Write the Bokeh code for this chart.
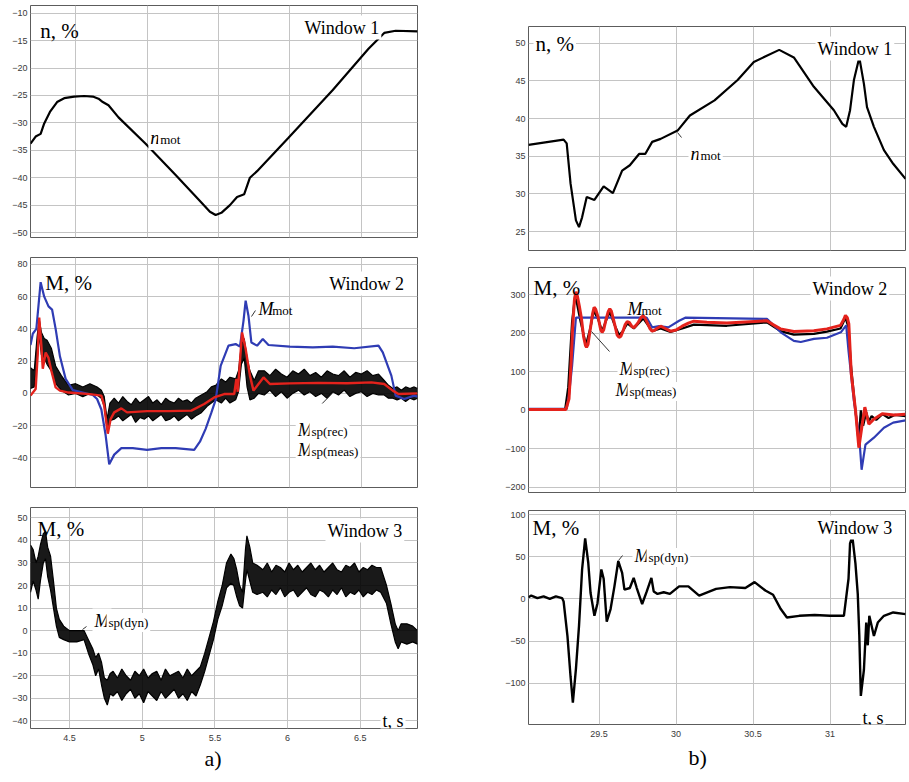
from bokeh.plotting import figure
from bokeh.models import Range1d, FixedTicker, Label, NumeralTickFormatter, Title
from bokeh.layouts import row, column
from bokeh.embed import file_html
from bokeh.resources import INLINE

# ---------------- data ----------------
# a) Window 1 : motor speed
t_n_a = [4.184, 4.22, 4.255, 4.28, 4.32, 4.37, 4.42, 4.49, 4.56, 4.62, 4.66, 4.69, 4.73, 4.80, 4.99,
         5.2, 5.38, 5.44, 5.48, 5.52, 5.58, 5.63, 5.68, 5.72, 5.77, 5.99, 6.3, 6.55, 6.66, 6.74, 6.893]
n_mot_a = [-33.8, -32.5, -32.0, -30.1, -28.0, -26.2, -25.5, -25.2, -25.1, -25.2, -25.6, -26.2, -26.8, -29.0,
           -33.8, -39.5, -44.5, -46.2, -46.8, -46.4, -45.0, -43.5, -43.0, -40.0, -38.8, -32.7, -24.0,
           -16.5, -13.6, -13.2, -13.3]

# a) Window 2
t_mot_a = [4.184, 4.20, 4.225, 4.255, 4.28, 4.31, 4.335, 4.36, 4.39, 4.43, 4.48, 4.62, 4.65, 4.68, 4.71,
           4.735, 4.77, 4.82, 4.9, 5.0, 5.1, 5.2, 5.33, 5.37, 5.41, 5.45, 5.48, 5.515, 5.57, 5.62, 5.65,
           5.675, 5.69, 5.71, 5.73, 5.77, 5.81, 5.85, 6.0, 6.16, 6.3, 6.45, 6.62, 6.65, 6.71, 6.74, 6.80,
           6.87, 6.893]
M_mot_a = [30, 37, 40, 69, 60, 54, 52, 40, 23, 9, 2, -1, -3.5, -10, -26, -44, -38, -34, -34, -35, -34, -34,
           -35, -30, -22, -12, -4, 17, 29.6, 30.6, 29, 45, 57.5, 48, 31.6, 29.6, 33.7, 30, 29, 28.5, 29,
           28, 29.6, 25.4, 11, -1.4, -3.5, -1.4, -2]
t_rec_a = [4.184, 4.22, 4.235, 4.245, 4.26, 4.27, 4.29, 4.31, 4.33, 4.36, 4.39, 4.45, 4.6, 4.68, 4.70,
           4.725, 4.745, 4.77, 4.82, 4.86, 5.0, 5.15, 5.31, 5.40, 5.47, 5.54, 5.61, 5.625, 5.635, 5.665,
           5.69, 5.72, 5.745, 5.78, 5.815, 5.86, 6.0, 6.2, 6.4, 6.57, 6.66, 6.72, 6.76, 6.893]
M_rec_a = [-1.4, 2.7, 25, 47, 29.6, 15.3, 25.4, 22, 14, 3.7, 1.7, 0.5, -0.5, -1.4, -7.6, -25, -15.9, -11.8,
           -9.3, -11.8, -11, -11, -10.7, -6.6, -2.5, -0.4, -0.4, 9, 1, 37.8, 27.5, 11, 1.7, 5.8, 9.9, 5.8,
           6.2, 6.5, 6.3, 6.8, 5.8, 1.7, -0.4, 0]
# measured torque: noisy trace, given by its upper / lower envelope
t_meas_a = [4.184, 4.21, 4.23, 4.245, 4.26, 4.28, 4.30, 4.33, 4.36, 4.40, 4.45, 4.50, 4.55, 4.60, 4.65,
            4.68, 4.70, 4.72, 4.74,
            4.77, 4.80, 4.83, 4.86, 4.89, 4.92, 4.95, 4.98, 5.01, 5.04, 5.07, 5.10, 5.13, 5.16, 5.19,
            5.22, 5.25, 5.28, 5.31, 5.34,
            5.38, 5.42, 5.45, 5.48, 5.52, 5.55, 5.58, 5.62, 5.64, 5.66, 5.68, 5.70, 5.72, 5.75, 5.78,
            5.82, 5.86, 5.90, 5.94, 5.98, 6.02, 6.06, 6.10, 6.14, 6.18, 6.22, 6.26, 6.30, 6.34, 6.38,
            6.42, 6.46, 6.50, 6.54, 6.58, 6.62,
            6.66, 6.69, 6.72, 6.75, 6.78, 6.81, 6.84, 6.87, 6.893]
M_meas_hi_a = [16, 14, 35, 46, 38, 34, 33, 28, 17, 11, 5, 6, 4, 6, 4, 2, -2, -16, -6,
               -3, -6, -2, -5, -7, -3, -6, -4, -2, -6, -4, -7, -3, -5, -6, -3, -5, -4, -6, -3,
               -1, 1, 4, 5, 9, 7, 10, 9, 14, 30, 34, 22, 14, 8, 14,
               14, 11, 15, 12, 10, 14, 12, 15, 11, 13, 10, 14, 12, 11, 14, 10, 13, 12, 14, 11, 12,
               8, 5, 3, 4, 2, 4, 3, 4, 3]
M_meas_lo_a = [3, 4, 20, 36, 24, 22, 18, 14, 6, 2, -1, 0, -2, 0, -1, -3, -8, -22, -17,
               -16, -14, -17, -15, -13, -18, -15, -16, -14, -17, -15, -13, -17, -16, -14, -17, -15, -13,
               -16, -14,
               -12, -8, -6, -4, -6, -3, -6, -4, 1, 18, 22, 4, -4, -3, 0,
               -1, 2, -2, 1, -3, 0, 2, -1, 1, -2, 0, -3, 1, -1, 2, -2, 0, 1, -2, 0, -1,
               -1, -3, -3, -4, -3, -5, -3, -4, -3]

# a) Window 3 : dynamic torque (noisy trace, upper / lower envelope)
t_dyn_a = [4.232, 4.25, 4.27, 4.285, 4.30, 4.32, 4.335, 4.35, 4.37, 4.39, 4.41, 4.43, 4.46, 4.50, 4.55,
           4.60, 4.63, 4.66, 4.68, 4.70, 4.72, 4.74, 4.76, 4.78,
           4.80, 4.83, 4.86, 4.89, 4.92, 4.95, 4.98, 5.01, 5.04, 5.07, 5.10, 5.13, 5.16, 5.19, 5.22,
           5.25, 5.28, 5.31, 5.34, 5.37,
           5.40, 5.43, 5.46, 5.49, 5.52, 5.55, 5.58, 5.61, 5.63, 5.65, 5.67, 5.69, 5.71, 5.72, 5.74,
           5.76, 5.79,
           5.83, 5.86, 5.89, 5.92, 5.95, 5.98, 6.01, 6.04, 6.07, 6.10, 6.13, 6.16, 6.19, 6.22, 6.25,
           6.28, 6.31, 6.34, 6.37, 6.40, 6.43, 6.46, 6.49, 6.52, 6.55, 6.58, 6.61,
           6.64, 6.68, 6.71, 6.74, 6.76, 6.78, 6.82, 6.86, 6.893]
M_dyn_hi_a = [38, 36, 30, 33, 38, 43, 44, 37, 33, 22, 10, 5, 2, 0, 0, 0, -4, -8, -12, -10, -14, -21, -22,
              -19,
              -18, -21, -17, -20, -22, -18, -20, -17, -21, -19, -18, -22, -17, -20, -19, -18, -21, -17,
              -20, -18,
              -16, -10, -3, 4, 13, 20, 30, 34, 32, 27, 20, 17, 36, 42, 37, 30, 29,
              27, 30, 26, 29, 28, 26, 30, 27, 29, 26, 28, 30, 27, 29, 26, 28, 30, 27, 26, 29, 28, 30,
              26, 28, 27, 29, 28,
              28, 20, 12, 3, 0, 3, 3, 2, 0]
M_dyn_lo_a = [17, 22, 18, 14, 22, 30, 32, 24, 18, 10, 2, -3, -4, -5, -5, -4, -10, -15, -20, -17, -24, -30,
              -33, -28,
              -29, -27, -31, -28, -26, -30, -28, -32, -27, -29, -31, -27, -30, -28, -26, -30, -28, -31,
              -27, -29,
              -24, -18, -11, -4, 5, 11, 19, 21, 20, 15, 11, 10, 22, 27, 22, 17, 16,
              17, 15, 18, 16, 19, 15, 17, 18, 15, 17, 19, 16, 15, 18, 17, 15, 18, 16, 19, 15, 17, 16,
              18, 15, 17, 16, 18,
              17, 12, 3, -5, -8, -5, -6, -5, -6]

# b) Window 1
t_n_b = [29.042, 29.27, 29.29, 29.315, 29.35, 29.37, 29.39, 29.42, 29.47, 29.53, 29.59, 29.65, 29.70,
         29.76, 29.80, 29.845, 29.90, 30.01, 30.09, 30.25, 30.40, 30.505, 30.67, 30.765, 30.895, 31.025,
         31.08, 31.105, 31.13, 31.155, 31.19, 31.22, 31.24, 31.285, 31.35, 31.41, 31.49]
n_mot_b = [36.5, 37.2, 36.7, 31.4, 26.5, 25.6, 26.9, 29.6, 29.2, 31.0, 30.1, 33.1, 33.8, 35.3, 35.3,
           36.9, 37.3, 38.4, 40.4, 42.4, 45.1, 47.5, 49.1, 48.1, 44.2, 41.1, 39.3, 38.9, 41.1, 45.1, 48.1,
           44.6, 41.5, 38.9, 35.8, 34.0, 32.0]

# b) Window 2
t_mot_b = [29.042, 29.29, 29.305, 29.325, 29.35, 29.81, 29.845, 29.89, 29.95, 30.02, 30.06, 30.59, 30.68,
           30.765, 30.81, 30.895, 30.98, 31.07, 31.105, 31.12, 31.155, 31.19, 31.205, 31.23, 31.285,
           31.35, 31.41, 31.49]
M_mot_b = [4, 4, 40, 115, 240, 240, 215, 218, 215, 232, 240, 237, 202, 180, 177, 185, 188, 202, 220, 154,
           24, -71, -154, -89, -71, -45, -32, -26]
t_rec_b = [29.042, 29.285, 29.305, 29.318, 29.328, 29.34, 29.350, 29.36, 29.372, 29.385, 29.40, 29.412,
           29.419, 29.428, 29.445, 29.458, 29.468, 29.478, 29.495, 29.51, 29.52, 29.53, 29.545, 29.56,
           29.57, 29.58, 29.60, 29.618, 29.63, 29.642, 29.655, 29.67, 29.683, 29.696, 29.712, 29.726,
           29.74, 29.755, 29.772, 29.787, 29.80, 29.815, 29.83, 29.845, 29.86, 29.875, 29.90, 29.93,
           29.964, 30.0, 30.04, 30.08, 30.116, 30.2, 30.33, 30.45, 30.59, 30.63, 30.678, 30.765, 30.895,
           30.98, 31.068, 31.09, 31.10, 31.112, 31.122, 31.138, 31.166, 31.187, 31.209, 31.226, 31.252,
           31.284, 31.339, 31.414, 31.49]
M_rec_b = [2, 2, 30, 120, 210, 285, 307, 295, 270, 240, 190, 168, 163, 170, 215, 250, 267, 262, 240, 210,
           202, 208, 235, 256, 263, 257, 225, 195, 189, 192, 205, 222, 230, 228, 218, 214, 220, 228, 240,
           245, 238, 225, 212, 205, 207, 212, 218, 212, 205, 208, 218, 226, 231, 228, 226, 229, 232, 222,
           211, 204, 206, 211, 220, 236, 246, 240, 224, 94, -2, -97, -36, 8, -36, -23, -9, -12, -10]
t_meas_b = [29.042, 29.28, 29.30, 29.325, 29.345, 29.38, 29.415, 29.445, 29.465, 29.495, 29.52, 29.545,
            29.57, 29.60, 29.63, 29.655, 29.683, 29.726, 29.787, 29.845, 29.90, 29.964, 30.04, 30.116,
            30.33, 30.59, 30.678, 30.765, 30.895, 30.98, 31.068, 31.10, 31.12, 31.135, 31.16, 31.185,
            31.20, 31.215, 31.235, 31.25, 31.27, 31.30, 31.34, 31.38, 31.42, 31.49]
M_meas_b = [3, 3, 60, 230, 300, 230, 170, 215, 258, 235, 205, 232, 255, 222, 195, 205, 225, 212, 238, 205,
            212, 203, 212, 222, 219, 228, 205, 196, 198, 204, 212, 240, 215, 120, 20, -80, 0, -40, -5,
            -30, -15, -25, -10, -20, -12, -15]

# b) Window 3
t_dyn_b = [29.042, 29.06, 29.10, 29.14, 29.18, 29.22, 29.26, 29.27, 29.295, 29.315, 29.33, 29.35, 29.37,
           29.39, 29.41, 29.43, 29.445, 29.47, 29.49, 29.515, 29.53, 29.55, 29.575, 29.60, 29.625, 29.65,
           29.665, 29.70, 29.725, 29.745, 29.78, 29.81, 29.84, 29.855, 29.88, 29.92, 29.96, 30.02, 30.08,
           30.15, 30.26, 30.35, 30.45, 30.51, 30.58, 30.63, 30.68, 30.72, 30.8, 30.9, 31.0, 31.09, 31.12,
           31.13, 31.145, 31.165, 31.18, 31.19, 31.20, 31.22, 31.235, 31.245, 31.255, 31.285, 31.31,
           31.35, 31.41, 31.49]
M_dyn_b = [2, 4, 1, 3, 0, 3, 1, -3, -44, -92, -123, -83, -32, 35, 72, 43, 7, -20, -5, 35, 24, -27, -12,
           15, 45, 31, 11, 13, 25, 13, -6, 9, 25, 9, 6, 8, 6, 15, 15, 4, 12, 14, 13, 20, 10, 5, -12, -22,
           -20, -19, -20, -20, 24, 66, 74, 42, 6, -43, -115, -84, -28, -55, -20, -44, -28, -20, -16, -18]

# ticks
xt_a = [4.5, 5, 5.5, 6, 6.5]
xt_b = [29.5, 30, 30.5, 31]
yt_a1 = [-50, -45, -40, -35, -30, -25, -20, -15, -10]
yt_a2 = [-40, -20, 0, 20, 40, 60, 80]
yt_a3 = [-40, -30, -20, -10, 0, 10, 20, 30, 40, 50]
yt_b1 = [25, 30, 35, 40, 45, 50]
yt_b2 = [-200, -100, 0, 100, 200, 300]
yt_b3 = [-100, -50, 0, 50, 100]

# ---------------- styling / layout ----------------
SERIF = "Liberation Serif"
SANS = "Liberation Sans"
GRID = "#c4c4c4"
BLUE = "#2f3cb4"
RED = "#e4221c"

# frame geometry in page pixels + axis ranges: (fx0, fx1, fy0, fy1, x0, x1, y0, y1)
GA1 = (23, 417, 5, 237, 4.184, 6.893, -50.9, -8.6)
GA2 = (23, 417, 257, 487, 4.184, 6.893, -58.4, 84.3)
GA3 = (30, 417, 507, 728, 4.232, 6.893, -43.4, 54.6)
GB1 = (528, 905, 26, 250, 29.042, 31.49, 22.5, 52.2)
GB2 = (528, 905, 267, 492, 29.042, 31.49, -213, 370)
GB3 = (528, 905, 510, 724, 29.042, 31.49, -149, 105)


def to_data(g, px, py):
    fx0, fx1, fy0, fy1, x0, x1, y0, y1 = g
    return (x0 + (px - fx0) / (fx1 - fx0) * (x1 - x0),
            y1 - (py - fy0) / (fy1 - fy0) * (y1 - y0))


def style_axis(ax, standoff):
    ax.axis_line_color = None
    ax.major_tick_line_color = None
    ax.minor_tick_line_color = None
    ax.major_tick_in = 0
    ax.major_tick_out = 0
    ax.major_label_standoff = standoff
    ax.major_label_text_font = SANS
    ax.major_label_text_font_size = "9px"
    ax.major_label_text_color = "#3a3a3a"


def make_fig(w, h, bl, br, bt, bb, g, xticks, yticks, show_x):
    fx0, fx1, fy0, fy1, x0, x1, y0, y1 = g
    p = figure(width=w, height=h, x_range=Range1d(x0, x1), y_range=Range1d(y0, y1),
               output_backend="svg", toolbar_location=None,
               x_axis_location="below" if show_x else None,
               min_border_left=bl, min_border_right=br, min_border_top=bt, min_border_bottom=bb)
    p.background_fill_color = "white"
    p.border_fill_color = "white"
    p.outline_line_color = "#5c5c5c"
    p.outline_line_width = 1
    p.xgrid.ticker = FixedTicker(ticks=xticks)
    p.ygrid.ticker = FixedTicker(ticks=yticks)
    for gr in (p.xgrid[0], p.ygrid[0]):
        gr.grid_line_color = GRID
        gr.grid_line_width = 1
    ya = p.yaxis[0]
    ya.ticker = FixedTicker(ticks=yticks)
    style_axis(ya, 3)
    if show_x:
        xa = p.xaxis[0]
        xa.ticker = FixedTicker(ticks=xticks)
        xa.formatter = NumeralTickFormatter(format="0.[0]")
        style_axis(xa, 6)
    return p


def lab(p, g, px, py, text, size, italic=False, bg=False, align="left"):
    x, y = to_data(g, px, py)
    kw = dict(x=x, y=y, text=text, text_font=SERIF, text_font_size=f"{size}px",
              text_font_style="italic" if italic else "normal",
              text_baseline="alphabetic", text_align=align, text_color="black")
    if bg:
        kw.update(background_fill_color="white", padding=2)
    p.add_layout(Label(**kw))


def sublab(p, g, px, py, main, sub, bg=True, size=18):
    lab(p, g, px, py, main, size, italic=True, bg=bg)
    w = {"M": 14, "n": 10}[main]
    lab(p, g, px + w, py + 2, sub, 13, bg=bg)


def leader(p, g, a, b):
    x1, y1 = to_data(g, *a)
    x2, y2 = to_data(g, *b)
    p.line([x1, x2], [y1, y2], line_color="#333333", line_width=1)


def caption(p, text, offset, standoff):
    p.add_layout(Title(text=text, align="left", offset=offset, standoff=standoff,
                       text_font=SERIF, text_font_size="22px", text_font_style="normal",
                       text_color="black"), "below")


def noisy(p, t, lo, hi):
    p.varea(x=t, y1=lo, y2=hi, fill_color="black", fill_alpha=0.9)
    p.line(t, hi, line_color="black", line_width=1.2)
    p.line(t, lo, line_color="black", line_width=1.2)


# ---- a) column ----
pa1 = make_fig(440, 247, 23, 23, 5, 10, GA1, xt_a, yt_a1, False)
pa1.line(t_n_a, n_mot_a, line_color="black", line_width=2.2)
lab(pa1, GA1, 33, 30, "n, %", 21)
lab(pa1, GA1, 300, 27, "Window 1", 18, bg=True)
sublab(pa1, GA1, 143, 137, "n", "mot", size=19)

pa2 = make_fig(440, 250, 23, 23, 10, 10, GA2, xt_a, yt_a2, False)
noisy(pa2, t_meas_a, M_meas_lo_a, M_meas_hi_a)
pa2.line(t_mot_a, M_mot_a, line_color=BLUE, line_width=2.2)
pa2.line(t_rec_a, M_rec_a, line_color=RED, line_width=2.4)
lab(pa2, GA2, 38, 282, "M, %", 21)
lab(pa2, GA2, 325, 283, "Window 2", 18, bg=True)
sublab(pa2, GA2, 255, 308, "M", "mot", bg=False)
leader(pa2, GA2, (252, 310), (248, 316))
leader(pa2, GA2, (320, 403), (330, 393))
sublab(pa2, GA2, 293, 429, "M", "sp(rec)")
sublab(pa2, GA2, 293, 449, "M", "sp(meas)")

pa3 = make_fig(440, 281, 30, 23, 10, 50, GA3, xt_a, yt_a3, True)
noisy(pa3, t_dyn_a, M_dyn_lo_a, M_dyn_hi_a)
lab(pa3, GA3, 37, 528, "M, %", 21)
lab(pa3, GA3, 325, 530, "Window 3", 18, bg=True)
leader(pa3, GA3, (82, 629), (86, 626))
sublab(pa3, GA3, 92, 620, "M", "sp(dyn)")
lab(pa3, GA3, 380, 720, "t, s", 18, bg=True)
caption(pa3, "a)", 174, 0)

# ---- b) column ----
pb1 = make_fig(468, 258, 88, 3, 26, 8, GB1, xt_b, yt_b1, False)
pb1.line(t_n_b, n_mot_b, line_color="black", line_width=2.2)
lab(pb1, GB1, 533, 43, "n, %", 21, bg=True)
lab(pb1, GB1, 815, 48, "Window 1", 18, bg=True)
leader(pb1, GB1, (677, 132), (681, 137))
sublab(pb1, GB1, 688, 153, "n", "mot", size=19)

pb2 = make_fig(468, 243, 88, 3, 9, 9, GB2, xt_b, yt_b2, False)
pb2.line(t_meas_b, M_meas_b, line_color="black", line_width=2.2)
pb2.line(t_mot_b, M_mot_b, line_color=BLUE, line_width=2.2)
pb2.line(t_rec_b, M_rec_b, line_color=RED, line_width=3)
lab(pb2, GB2, 533, 287, "M, %", 21)
lab(pb2, GB2, 810, 288, "Window 2", 18, bg=True)
sublab(pb2, GB2, 627, 308, "M", "mot", bg=False)
leader(pb2, GB2, (591, 331), (609, 351))
sublab(pb2, GB2, 617, 368, "M", "sp(rec)")
sublab(pb2, GB2, 613, 389, "M", "sp(meas)")

pb3 = make_fig(468, 279, 88, 3, 9, 56, GB3, xt_b, yt_b3, True)
pb3.line(t_dyn_b, M_dyn_b, line_color="black", line_width=2.4)
lab(pb3, GB3, 532, 527, "M, %", 21)
lab(pb3, GB3, 815, 527, "Window 3", 18, bg=True)
leader(pb3, GB3, (618, 560), (622, 555))
sublab(pb3, GB3, 632, 555, "M", "sp(dyn)")
lab(pb3, GB3, 860, 717, "t, s", 18, bg=True)
caption(pb3, "b)", 160, 6)

layout = row(column(pa1, pa2, pa3), column(pb1, pb2, pb3))

with open("out.html", "w") as f:
    f.write(file_html(layout, INLINE))
